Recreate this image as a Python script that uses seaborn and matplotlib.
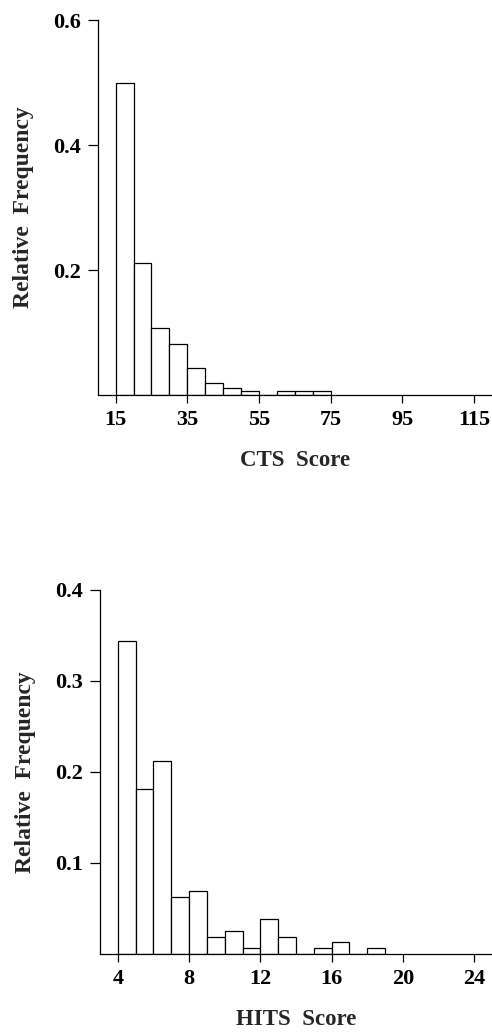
import seaborn as sns
import numpy as np
import matplotlib.pyplot as plt

# CTS score histogram (bin starts, width 5)
cts_bins = [15, 20, 25, 30, 35, 40, 45, 50, 55, 60, 65, 70]
cts_freq = [0.500, 0.212, 0.107, 0.081, 0.044, 0.019, 0.012, 0.006, 0.0, 0.006, 0.006, 0.006]
cts_ticks = [15, 35, 55, 75, 95, 115]
cts_yticks = [0.2, 0.4, 0.6]

# HITS score histogram (bin starts, width 1)
hits_bins = [4, 5, 6, 7, 8, 9, 10, 11, 12, 13, 14, 15, 16, 17, 18]
hits_freq = [0.344, 0.181, 0.212, 0.063, 0.069, 0.019, 0.025, 0.007, 0.038, 0.019,
             0.0, 0.007, 0.013, 0.0, 0.007]
hits_ticks = [4, 8, 12, 16, 20, 24]
hits_yticks = [0.1, 0.2, 0.3, 0.4]

sns.set_style('ticks')
plt.rcParams['font.family'] = ['Liberation Serif', 'DejaVu Serif']
plt.rcParams['font.weight'] = 'bold'
plt.rcParams['axes.labelweight'] = 'bold'
plt.rcParams['axes.linewidth'] = 0.9
plt.rcParams['xtick.major.width'] = 0.9
plt.rcParams['ytick.major.width'] = 0.9
plt.rcParams['xtick.major.size'] = 6
plt.rcParams['ytick.major.size'] = 7
plt.rcParams['xtick.color'] = 'black'
plt.rcParams['ytick.color'] = 'black'
plt.rcParams['axes.edgecolor'] = 'black'

fig = plt.figure(figsize=(4.92, 10.32), dpi=100)
ax1 = fig.add_axes([0.1986, 0.6172, 0.8014, 0.3634])
ax2 = fig.add_axes([0.2033, 0.0756, 0.7967, 0.3527])


def draw(ax, bins, freq, width, xlim, ylim, xticks, yticks, xlabel):
    sns.histplot(x=bins, weights=freq, binwidth=width,
                 binrange=(bins[0], bins[-1] + width), stat='count',
                 color='white', edgecolor='black', linewidth=0.9, alpha=1,
                 ax=ax)
    ax.set_xlim(*xlim)
    ax.set_ylim(*ylim)
    ax.set_xticks(xticks)
    ax.set_yticks(yticks)
    ax.set_yticklabels([f'{v:.1f}' for v in yticks])
    ax.tick_params(labelsize=16, pad=5)
    ax.set_xlabel(xlabel, fontsize=16.5, labelpad=14)
    ax.set_ylabel('Relative  Frequency', fontsize=17, labelpad=14)
    sns.despine(ax=ax)


draw(ax1, cts_bins, cts_freq, 5, (10, 120), (0, 0.6), cts_ticks, cts_yticks, 'CTS  Score')
draw(ax2, hits_bins, hits_freq, 1, (3, 25), (0, 0.4), hits_ticks, hits_yticks, 'HITS  Score')

fig.savefig('out.png', dpi=100, facecolor='white')
